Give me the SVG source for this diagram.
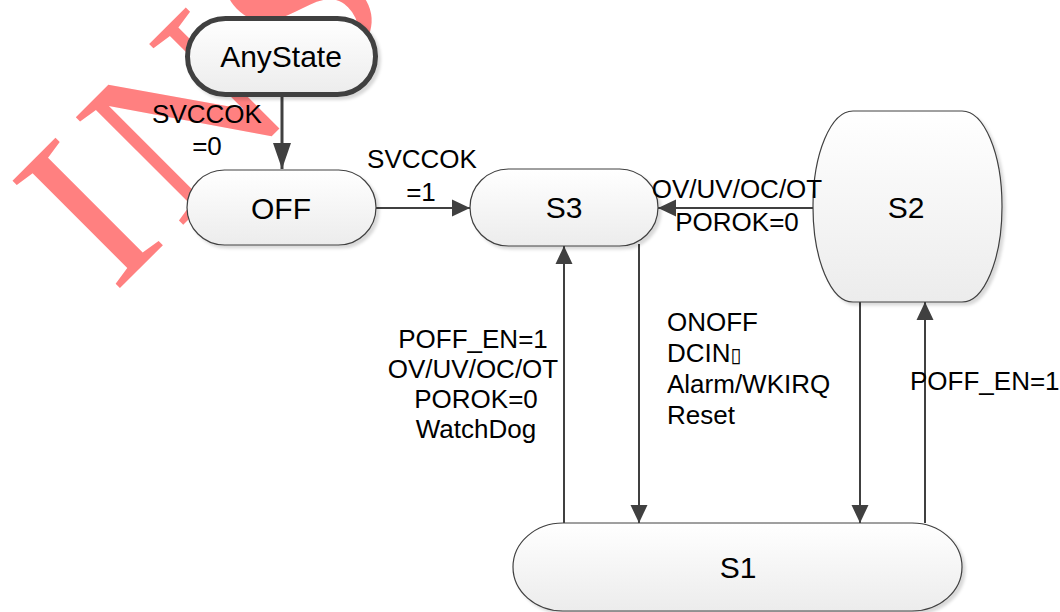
<svg xmlns="http://www.w3.org/2000/svg" width="1060" height="612" viewBox="0 0 1060 612">
  <defs>
    <style>
      .node { fill: url(#nodeGrad); stroke: #404040; stroke-width: 1.2; filter: url(#shadow); }
      .nlabel { font-family: "Liberation Sans", Arial, sans-serif; font-size: 30px; fill: #000; text-anchor: middle; }
      .elabel { font-family: "Liberation Sans", Arial, sans-serif; font-size: 26px; fill: #000; }
      .edge { fill: none; stroke: #404040; stroke-width: 2; }
      .wm { font-family: "Liberation Serif", "Times New Roman", serif; font-size: 232px; fill: #ff8080; letter-spacing: 14px; }
    </style>
    <linearGradient id="nodeGrad" x1="0" y1="0" x2="0" y2="1">
      <stop offset="0" stop-color="#ffffff"/>
      <stop offset="1" stop-color="#ececec"/>
    </linearGradient>
    <filter id="shadow" x="-10%" y="-10%" width="130%" height="130%">
      <feDropShadow dx="3" dy="3" stdDeviation="1.5" flood-color="#000" flood-opacity="0.15"/>
    </filter>
    <marker id="arrow" markerUnits="userSpaceOnUse" markerWidth="19" markerHeight="18" refX="18" refY="9" orient="auto">
      <path d="M0,0.5 L18,9 L0,17.5 z" fill="#404040"/>
    </marker>
    <marker id="arrowBig" markerUnits="userSpaceOnUse" markerWidth="27" markerHeight="20" refX="26" refY="10" orient="auto">
      <path d="M0,1 L26,10 L0,19 z" fill="#404040"/>
    </marker>
  </defs>

  <rect width="1060" height="612" fill="#ffffff"/>

  <!-- watermark -->
  <text class="wm" transform="translate(114,294) rotate(-45)">INS</text>

  <!-- connectors -->
  <g id="connectors">
    <line class="edge" x1="282" y1="97" x2="282" y2="169" style="stroke-width:3" marker-end="url(#arrowBig)"/>
    <line class="edge" x1="376" y1="208" x2="470" y2="208" marker-end="url(#arrow)"/>
    <line class="edge" x1="813" y1="208" x2="658" y2="208" marker-end="url(#arrow)"/>
    <line class="edge" x1="564" y1="523" x2="564" y2="246" marker-end="url(#arrow)"/>
    <line class="edge" x1="639" y1="244" x2="639" y2="523" marker-end="url(#arrow)"/>
    <line class="edge" x1="860" y1="302" x2="860" y2="523" marker-end="url(#arrow)"/>
    <line class="edge" x1="925" y1="523" x2="925" y2="302" marker-end="url(#arrow)"/>
  </g>

  <g id="AnyState">
    <rect class="node" x="187.5" y="18.5" width="188" height="76" rx="38" ry="38" style="stroke-width:5"/>
    <text class="nlabel" x="281" y="67">AnyState</text>
  </g>
  <g id="OFF">
    <rect class="node" x="187" y="170" width="189" height="75" rx="37.5" ry="37.5"/>
    <text class="nlabel" x="281" y="219">OFF</text>
  </g>
  <g id="S3">
    <rect class="node" x="470" y="169" width="188" height="77" rx="38.5" ry="38.5"/>
    <text class="nlabel" x="564" y="218">S3</text>
  </g>
  <g id="S2">
    <rect class="node" x="813" y="111" width="189" height="191" rx="40" ry="95"/>
    <text class="nlabel" x="906" y="218">S2</text>
  </g>
  <g id="S1">
    <rect class="node" x="513" y="523" width="449" height="88" rx="50" ry="44"/>
    <text class="nlabel" x="738" y="578">S1</text>
  </g>

  <!-- connector labels -->
  <g id="connector-labels">
    <g class="elabel" text-anchor="middle">
      <text x="207" y="123">SVCCOK</text>
      <text x="207" y="155">=0</text>
      <text x="422" y="168">SVCCOK</text>
      <text x="421" y="201">=1</text>
      <text x="737" y="198">OV/UV/OC/OT</text>
      <text x="737" y="231">POROK=0</text>
      <text x="473" y="348">POFF_EN=1</text>
      <text x="473" y="378">OV/UV/OC/OT</text>
      <text x="476" y="408">POROK=0</text>
      <text x="476" y="438">WatchDog</text>
    </g>
    <g class="elabel">
      <text x="667" y="331">ONOFF</text>
      <text x="667" y="362">DCIN<tspan font-family="DejaVu Sans" font-size="20">▯</tspan></text>
      <text x="667" y="393">Alarm/WKIRQ</text>
      <text x="667" y="424">Reset</text>
      <text x="910" y="390">POFF_EN=1</text>
    </g>
  </g>
</svg>
